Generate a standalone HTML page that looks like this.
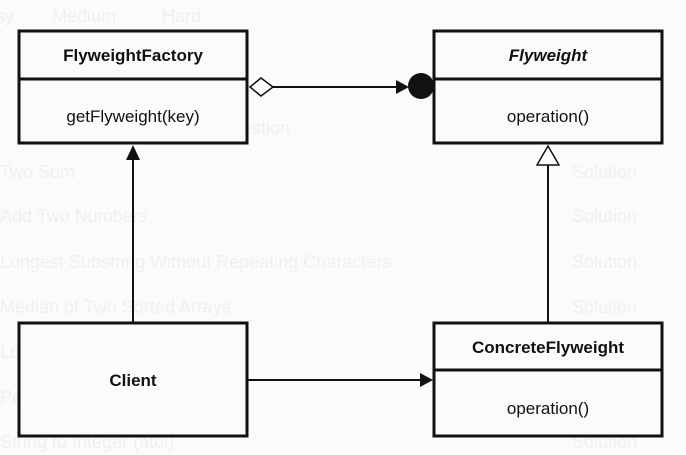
<!DOCTYPE html>
<html><head><style>
body{margin:0;background:#fbfbfb;width:686px;height:455px;overflow:hidden}
</style></head><body>
<svg width="686" height="455" xmlns="http://www.w3.org/2000/svg" style="position:absolute;left:0;top:0">
<g font-family="Liberation Sans, sans-serif" font-size="18" fill="#f0f0f3">
<text x="-4" y="22">sy</text><text x="52" y="22">Medium</text><text x="162" y="22">Hard</text>
<text x="218" y="134">Question</text><text x="572" y="134">Solution</text>
<text x="0" y="178">Two Sum</text><text x="572" y="178">Solution</text>
<text x="0" y="222">Add Two Numbers</text><text x="572" y="222">Solution</text>
<text x="0" y="268">Longest Substring Without Repeating Characters</text><text x="572" y="268">Solution</text>
<text x="0" y="313">Median of Two Sorted Arrays</text><text x="572" y="313">Solution</text>
<text x="0" y="358">Longest Palindromic Substring</text>
<text x="0" y="403">Palindrome Number</text><text x="572" y="403">Solution</text>
<text x="0" y="448">String to Integer (atoi)</text><text x="572" y="448">Solution</text>
</g>
<g stroke="#111" stroke-width="3" fill="#fbfbfb">
<rect x="19" y="31" width="228" height="112"/><line x1="19" y1="79" x2="247" y2="79"/>
<rect x="434" y="31" width="228" height="112"/><line x1="434" y1="79" x2="662" y2="79"/>
<rect x="19" y="323" width="228" height="113"/>
<rect x="434" y="323" width="228" height="113"/><line x1="434" y1="370" x2="662" y2="370"/>
</g>
<g stroke="#111" stroke-width="2" fill="none">
<line x1="273" y1="87" x2="400" y2="87"/>
<line x1="133" y1="160" x2="133" y2="322"/>
<line x1="548" y1="165" x2="548" y2="322"/>
<line x1="248" y1="380" x2="422" y2="380"/>
</g>
<polygon points="250,87 261,78 273,87 261,96" fill="#fff" stroke="#111" stroke-width="1.5"/>
<polygon points="396,80 409,87 396,94" fill="#111"/>
<circle cx="421" cy="86" r="13" fill="#111"/>
<polygon points="133,145 126,160 140,160" fill="#111"/>
<polygon points="548,146 537,165 559,165" fill="#fff" stroke="#111" stroke-width="1.5"/>
<polygon points="420,373 433,380 420,387" fill="#111"/>
<g font-family="Liberation Sans, sans-serif" font-size="17" fill="#111" text-anchor="middle">
<text x="133" y="61" font-weight="bold">FlyweightFactory</text>
<text x="133" y="122">getFlyweight(key)</text>
<text x="548" y="61" font-weight="bold" font-style="italic">Flyweight</text>
<text x="548" y="122">operation()</text>
<text x="133" y="386" font-weight="bold">Client</text>
<text x="548" y="353" font-weight="bold">ConcreteFlyweight</text>
<text x="548" y="414">operation()</text>
</g>
</svg>
</body></html>
